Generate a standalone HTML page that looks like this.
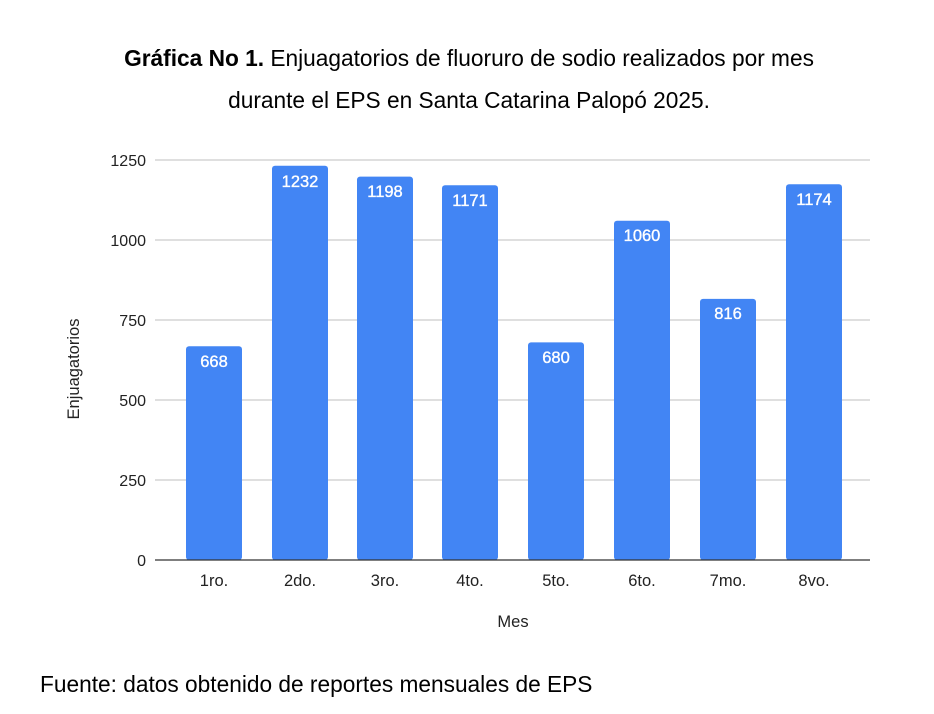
<!DOCTYPE html>
<html><head><meta charset="utf-8"><style>
html,body{margin:0;padding:0;background:#fff;width:934px;height:714px;overflow:hidden}
svg{display:block}
</style></head><body>
<svg width="934" height="714" viewBox="0 0 934 714" font-family="'Liberation Sans', Arial, sans-serif">
<rect width="934" height="714" fill="#fff"/>
<text x="469" y="66" text-anchor="middle" font-size="22.7" fill="#000"><tspan font-weight="bold">Gráfica No 1.</tspan> Enjuagatorios de fluoruro de sodio realizados por mes</text>
<text x="469" y="108" text-anchor="middle" font-size="22.7" fill="#000">durante el EPS en Santa Catarina Palopó 2025.</text>
<g stroke="#cccccc" stroke-width="1.3">
<line x1="155" x2="870" y1="160" y2="160"/>
<line x1="155" x2="870" y1="240" y2="240"/>
<line x1="155" x2="870" y1="320" y2="320"/>
<line x1="155" x2="870" y1="400" y2="400"/>
<line x1="155" x2="870" y1="480" y2="480"/>
</g>
<g font-size="16" fill="#222" text-anchor="end">
<text x="146" y="166">1250</text><text x="146" y="246">1000</text><text x="146" y="326">750</text>
<text x="146" y="406">500</text><text x="146" y="486">250</text><text x="146" y="566">0</text>
</g>
<text transform="translate(79,369) rotate(-90)" text-anchor="middle" font-size="16.5" fill="#222">Enjuagatorios</text>
<g fill="#4285f4">
<rect x="186" y="346.2" width="56" height="213.8" rx="3"/>
<rect x="272" y="165.8" width="56" height="394.2" rx="3"/>
<rect x="357" y="176.6" width="56" height="383.4" rx="3"/>
<rect x="442" y="185.3" width="56" height="374.7" rx="3"/>
<rect x="528" y="342.4" width="56" height="217.6" rx="3"/>
<rect x="614" y="220.8" width="56" height="339.2" rx="3"/>
<rect x="700" y="298.9" width="56" height="261.1" rx="3"/>
<rect x="786" y="184.3" width="56" height="375.7" rx="3"/>
</g>
<line x1="155" x2="870" y1="560" y2="560" stroke="#333" stroke-width="1.3"/>
<g font-size="16.5" fill="#fff" stroke="#fff" stroke-width="0.35" text-anchor="middle">
<text x="214" y="367">668</text><text x="300" y="187">1232</text><text x="385" y="197">1198</text>
<text x="470" y="206">1171</text><text x="556" y="363">680</text><text x="642" y="241">1060</text>
<text x="728" y="319">816</text><text x="814" y="205">1174</text>
</g>
<g font-size="16.5" fill="#222" text-anchor="middle">
<text x="214" y="586">1ro.</text><text x="300" y="586">2do.</text><text x="385" y="586">3ro.</text>
<text x="470" y="586">4to.</text><text x="556" y="586">5to.</text><text x="642" y="586">6to.</text>
<text x="728" y="586">7mo.</text><text x="814" y="586">8vo.</text>
</g>
<text x="513" y="627" text-anchor="middle" font-size="16.5" fill="#222">Mes</text>
<text x="40" y="692" font-size="22.7" fill="#000">Fuente: datos obtenido de reportes mensuales de EPS</text>
</svg>
</body></html>
